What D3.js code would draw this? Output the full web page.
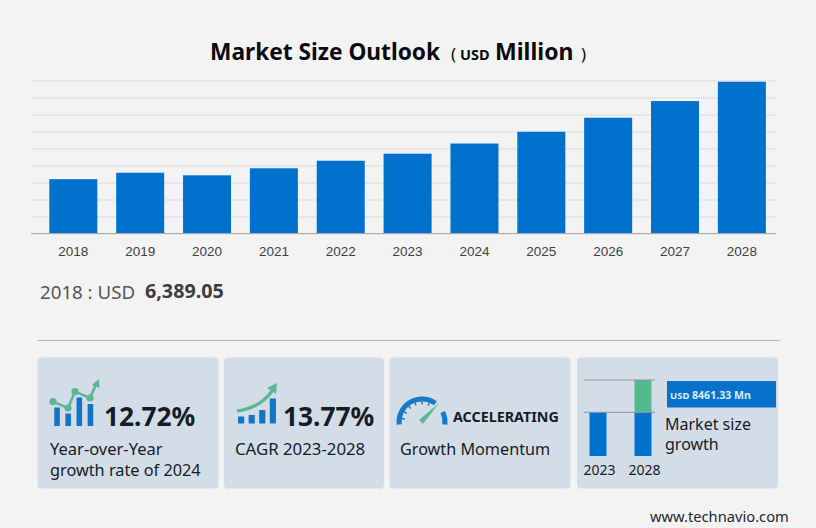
<!DOCTYPE html>
<html>
<head>
<meta charset="utf-8">
<title>Market Size Outlook</title>
<script src="https://cdn.jsdelivr.net/npm/d3@7"></script>
<style>
html, body { margin: 0; padding: 0; background: #f3f3f4; }
svg { display: block; }
text { font-family: "Noto Sans", sans-serif; }
</style>
</head>
<body>
<div id="mainvis"></div>
<script>
// main chart data, USD million
var years = ["2018","2019","2020","2021","2022","2023","2024","2025","2026","2027","2028"];
var marketSize = [6389.05,7150,6845,7670,8560,9390,10585,11970,13620,15580,17851];
var gridTicks = [0,2000,4000,6000,8000,10000,12000,14000,16000,18000];

// small 2023 -> 2028 chart in the last card (drawn as an index, not to the main scale)
var miniYears = ["2023","2028"];
var miniBase = [57.5,57.5];
var miniGrowth = [0,42.5];

// the little icons
var yoyBars = [18.5,12.5,28.5,22];
var yoyLine = [[53,401.7],[68,408],[75,391.7],[90,398],[97,382]];
var cagrBars = [7,8.5,13.5,25];

var blue = "#0071cd";
var green = "#54b98f";
var cardFill = "#d3dde8";
var ink = "#161c26";

var W = 816, H = 528;

var mainSVG = d3.select("#mainvis").append("svg").attr("width", W).attr("height", H);

function label(txt, x, y, size, weight, color, anchor) {
	return mainSVG.append("text")
		.attr("x", x).attr("y", y)
		.attr("font-size", size + "px")
		.attr("font-weight", weight || 400)
		.attr("fill", color || ink)
		.attr("text-anchor", anchor || "start")
		.text(txt);
}

// title
label("Market Size Outlook", 210, 60, 22.7, 700, "#0b0b0f");
label("(", 451, 60, 17, 400, "#0b0b0f");
label("USD", 460, 60, 14.5, 700, "#0b0b0f");
label("Million", 495, 60, 23, 700, "#0b0b0f");
label(")", 581, 60, 17, 400, "#0b0b0f");

// main bar chart
var x = d3.scaleBand().domain(years).range([39.9,775.3]).paddingInner(0.282).paddingOuter(0.141);
var y = d3.scaleLinear().domain([0,18000]).range([233.5,80.5]);

var grid = mainSVG.append("g")
	.attr("transform", "translate(32,0)")
	.call(d3.axisRight(y).tickValues(gridTicks).tickSize(744).tickFormat(""));
grid.select(".domain").remove();
grid.selectAll("line").attr("stroke", "#dbdbdc");

mainSVG.selectAll("rect.bar")
	.data(marketSize)
	.enter().append("rect")
	.attr("class", "bar")
	.attr("x", function(d, i) { return x(years[i]); })
	.attr("y", function(d) { return y(d); })
	.attr("width", x.bandwidth())
	.attr("height", function(d) { return y(0) - y(d); })
	.attr("fill", blue);

var xAxis = mainSVG.append("g")
	.attr("transform", "translate(0,233.5)")
	.call(d3.axisBottom(x).tickSize(0).tickPadding(13));
xAxis.select(".domain").remove();
xAxis.selectAll("text")
	.attr("font-size", "13.5px")
	.attr("fill", "#3f3f42")
	.style("font-family", "'Liberation Sans', Arial, sans-serif");
mainSVG.append("line")
	.attr("x1", 31).attr("x2", 776)
	.attr("y1", y(0)).attr("y2", y(0))
	.attr("stroke", "#a9a9ad");

// 2018 read-out
label("2018 : USD", 40, 299, 18.7, 400, "#56565a");
label("6,389.05", 145, 298, 19.7, 700, "#3d3d40");

// rule above the cards
mainSVG.append("line")
	.attr("x1", 38).attr("x2", 780)
	.attr("y1", 340.5).attr("y2", 340.5)
	.attr("stroke", "#b5b5b7");

// cards
var cardLefts = [37.5,224,389.5,577];
var cardRights = [218.5,384,570.5,778];
mainSVG.selectAll("rect.card")
	.data(cardLefts)
	.enter().append("rect")
	.attr("class", "card")
	.attr("x", function(d) { return d; })
	.attr("y", 357.5)
	.attr("width", function(d, i) { return cardRights[i] - d; })
	.attr("height", 131)
	.attr("rx", 4)
	.attr("fill", cardFill);

// card 1 : year over year
var yoyX = d3.scaleBand().domain(d3.range(yoyBars.length)).range([51.5,96]).paddingInner(0.5).paddingOuter(0.25);
mainSVG.selectAll("rect.yoy")
	.data(yoyBars)
	.enter().append("rect")
	.attr("class", "yoy")
	.attr("x", function(d, i) { return yoyX(i); })
	.attr("y", function(d) { return 426 - d; })
	.attr("width", yoyX.bandwidth())
	.attr("height", function(d) { return d; })
	.attr("fill", "#1274c6");
mainSVG.append("path")
	.attr("d", d3.line()(yoyLine))
	.attr("fill", "none")
	.attr("stroke", "#5bb795")
	.attr("stroke-width", 2.5);
mainSVG.selectAll("circle.yoy")
	.data(yoyLine.slice(0, 4))
	.enter().append("circle")
	.attr("class", "yoy")
	.attr("cx", function(d) { return d[0]; })
	.attr("cy", function(d) { return d[1]; })
	.attr("r", 3.6)
	.attr("fill", "#5bb795");
mainSVG.append("path").attr("d", "M92,385L99,379L99.5,388Z").attr("fill", "#5bb795");
label("12.72%", 104, 426, 26.3, 700);
label("Year-over-Year", 50, 455, 16.5);
label("growth rate of 2024", 50, 476, 16.3);

// card 2 : cagr
var cagrX = d3.scaleBand().domain(d3.range(cagrBars.length)).range([237,277]).paddingInner(0.42).paddingOuter(0.1);
mainSVG.selectAll("rect.cagr")
	.data(cagrBars)
	.enter().append("rect")
	.attr("class", "cagr")
	.attr("x", function(d, i) { return cagrX(i); })
	.attr("y", function(d) { return 423.5 - d; })
	.attr("width", cagrX.bandwidth())
	.attr("height", function(d) { return d; })
	.attr("fill", "#1274c6");
mainSVG.append("path")
	.attr("d", "M237,411Q260,408 272,391")
	.attr("fill", "none")
	.attr("stroke", "#5bb795")
	.attr("stroke-width", 3.2);
mainSVG.append("path").attr("d", "M267,388L277,383L276,394Z").attr("fill", "#5bb795");
label("13.77%", 283, 426, 26.3, 700);
label("CAGR 2023-2028", 235, 455, 16.8);

// card 3 : momentum gauge
var gauge = d3.arc().innerRadius(20.5).outerRadius(25.5);
var gaugeG = mainSVG.append("g").attr("transform", "translate(422,422)");
gaugeG.append("path")
	.attr("d", gauge({startAngle: -1.68, endAngle: 0.62}))
	.attr("fill", "#1a78c4");
gaugeG.append("path")
	.attr("d", gauge({startAngle: 1.12, endAngle: 1.68}))
	.attr("fill", "#1a78c4");
d3.range(-1.4, 0.7, 0.35).forEach(function(a) {
	gaugeG.append("line")
		.attr("x1", 20.5 * Math.sin(a)).attr("y1", -20.5 * Math.cos(a))
		.attr("x2", 17.5 * Math.sin(a)).attr("y2", -17.5 * Math.cos(a))
		.attr("stroke", "#1a78c4").attr("stroke-width", 1.4);
});
mainSVG.append("path").attr("d", "M419,420L423,424L439,403Z").attr("fill", "#5bb795");
label("ACCELERATING", 453, 422, 14.3, 700);
label("Growth Momentum", 400, 455, 16.2);

// card 4 : market size growth
var miniX = d3.scaleBand().domain(miniYears).range([584,657]).paddingInner(0.622).paddingOuter(0.122);
var miniY = d3.scaleLinear().domain([0,100]).range([456,380]);
mainSVG.selectAll("rect.miniBase")
	.data(miniBase)
	.enter().append("rect")
	.attr("class", "miniBase")
	.attr("x", function(d, i) { return miniX(miniYears[i]); })
	.attr("y", function(d) { return miniY(d); })
	.attr("width", miniX.bandwidth())
	.attr("height", function(d) { return miniY(0) - miniY(d); })
	.attr("fill", blue);
mainSVG.selectAll("rect.miniGrowth")
	.data(miniGrowth)
	.enter().append("rect")
	.attr("class", "miniGrowth")
	.attr("x", function(d, i) { return miniX(miniYears[i]); })
	.attr("y", function(d, i) { return miniY(miniBase[i] + d); })
	.attr("width", miniX.bandwidth())
	.attr("height", function(d) { return miniY(0) - miniY(d); })
	.attr("fill", green);
[100,57.5].forEach(function(v) {
	mainSVG.append("line")
		.attr("x1", 584).attr("x2", 655)
		.attr("y1", miniY(v)).attr("y2", miniY(v))
		.attr("stroke", "#8b97a3");
});
miniYears.forEach(function(yr) {
	label(yr, miniX(yr) + miniX.bandwidth() / 2 + 1.5, 475, 14, 400, ink, "middle");
});
mainSVG.append("rect")
	.attr("x", 667).attr("y", 381)
	.attr("width", 109).attr("height", 26.5)
	.attr("fill", "#0872cb");
label("USD", 670, 399, 9.5, 700, "#d5eefb");
label("8461.33 Mn", 692, 399, 10.6, 700, "#d5eefb");
label("Market size", 665, 430, 16);
label("growth", 665, 450, 16);

label("www.technavio.com", 650, 522, 14.7, 400, "#26262a");
</script>
</body>
</html>
